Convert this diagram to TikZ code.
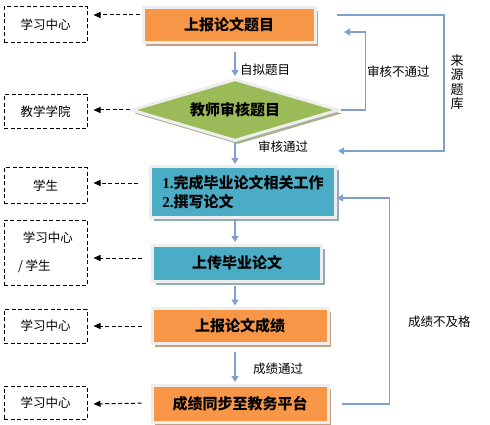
\documentclass[tikz,border=0pt]{standalone}
\usepackage{fontspec}
\setmainfont{Noto Sans CJK SC}
\newfontfamily\lserif{Liberation Serif}
\usetikzlibrary{shapes.geometric,shadows,arrows.meta,calc}
\definecolor{org}{HTML}{F79646}
\definecolor{grn}{HTML}{9BBB59}
\definecolor{tea}{HTML}{4BACC6}
\definecolor{frm}{HTML}{EEEEEE}
\definecolor{bln}{HTML}{7F9FCC}
\definecolor{oshd}{HTML}{C9A07F}
\definecolor{tshd}{HTML}{93ABB3}
\definecolor{gshd}{HTML}{A9B193}
\begin{document}
\begin{tikzpicture}[x=1pt,y=-1pt,
  mainbox/.style={draw=frm, line width=3pt, inner sep=0pt, font=\fontsize{15}{19}\selectfont\bfseries},
  obox/.style={mainbox, fill=org, drop shadow={shadow xshift=3pt, shadow yshift=-3.5pt, fill=oshd, opacity=1}},
  tbox/.style={mainbox, fill=tea, drop shadow={shadow xshift=3pt, shadow yshift=-3.5pt, fill=tshd, opacity=1}},
  gbox/.style={mainbox, diamond, shape aspect=3.35, fill=grn, drop shadow={shadow xshift=3pt, shadow yshift=-3.5pt, fill=gshd, opacity=1}},
  lbox/.style={draw=black, dash pattern=on 4pt off 2.5pt, line width=1pt, minimum width=83pt, inner sep=0pt, font=\fontsize{12.5}{14}\selectfont},
  lbl/.style={inner sep=0pt, font=\fontsize{12.5}{14}\selectfont},
  barr/.style={draw=bln, line width=1.3pt, -{Triangle[width=7pt,length=6pt]}},
  darr/.style={draw=black, dash pattern=on 4pt off 2.5pt, line width=1pt, -{Triangle[width=6pt,length=7pt]}}
]
\useasboundingbox (0,0) rectangle (490,425);

% left dashed boxes
\node[lbox, minimum height=36pt] (l1) at (45.5,25) {学习中心};
\node[lbox, minimum height=34pt] (l2) at (45.5,112) {教学学院};
\node[lbox, minimum height=35pt] (l3) at (45.5,185.5) {学生};
\node[lbox, minimum height=65pt, align=left, font=\fontsize{12.5}{28}\selectfont] (l4) at (45.5,252.5) {\hspace{5pt}学习中心\\/ 学生};
\node[lbox, minimum height=34pt] (l5) at (45.5,326) {学习中心};
\node[lbox, minimum height=33pt] (l6) at (45.5,402.5) {学习中心};

% main flow
\node[obox, minimum width=172pt, minimum height=35pt] (top) at (229,25) {上报论文题目};
\node[gbox, minimum width=208pt, minimum height=62pt] (dia) at (235,110) {教师审核题目};
\node[tbox, minimum width=185pt, minimum height=50pt, align=left] (b2) at (243,192) {{\lserif\bfseries 1.}完成毕业论文相关工作\\{\lserif\bfseries 2.}撰写论文};
\node[tbox, minimum width=169pt, minimum height=36pt] (b3) at (237,263) {上传毕业论文};
\node[obox, minimum width=176pt, minimum height=35pt] (b4) at (240,326) {上报论文成绩};
\node[obox, minimum width=176pt, minimum height=37pt] (b5) at (240,404) {成绩同步至教务平台};

% labels
\node[lbl, anchor=west] (t1) at (240,70) {自拟题目};
\node[lbl, anchor=west] (t2) at (367,72) {审核不通过};
\node[lbl, anchor=west] (t3) at (258,147) {审核通过};
\node[lbl, anchor=west] (t4) at (253,369) {成绩通过};
\node[lbl, anchor=west] (t5) at (408,322) {成绩不及格};
\node[lbl, align=center, font=\fontsize{13}{14.5}\selectfont] (t6) at (457,82) {来\\源\\题\\库};

% vertical blue arrows
\draw[barr, shorten <=8pt, shorten >=1.5pt] (top.south -| dia.north) -- (dia.north);
\draw[barr, shorten >=1.5pt] (dia.south) -- (b2.north -| dia.south);
\draw[barr, shorten >=1.5pt] (b2.south -| dia.south) -- (b3.north -| dia.south);
\draw[barr, shorten <=3pt, shorten >=1.5pt] (b3.south -| dia.south) -- (b4.north -| dia.south);
\draw[barr, shorten <=7pt, shorten >=2pt] (b4.south -| dia.south) -- (b5.north -| dia.south);

% side blue connectors
\coordinate (nb) at (344,32);
\draw[barr] (dia.east) -- ++(25,0) |- (nb);
\coordinate (c0) at (337,15);
\coordinate (c1) at (338,151);
\draw[barr] (c0) -- ++(107,0) |- (c1);
\draw[barr, shorten <=12pt] (b5.east) -- ++(60,0) |- ([yshift=-6pt]b2.east);

% dashed arrows to the left
\path ([yshift=10pt]top.west) coordinate (s1);
\draw[darr, shorten <=2pt, shorten >=6pt] (s1) -- (l1.east |- s1);
\draw[darr, shorten >=6pt] (dia.west) -- (l2.east |- dia.west);
\path ([yshift=9pt]b2.west) coordinate (s3);
\draw[darr, shorten <=11pt, shorten >=6pt] (s3) -- (l3.east |- s3);
\path ([yshift=5pt]b3.west) coordinate (s4);
\draw[darr, shorten <=9pt, shorten >=6pt] (s4) -- (l4.east |- s4);
\draw[darr, shorten <=9pt, shorten >=6pt] (b4.west) -- (l5.east |- b4.west);
\draw[darr, shorten <=9pt, shorten >=6pt] ([yshift=1pt]b5.west) -- (l6.east |- b5.west);
\end{tikzpicture}
\end{document}
